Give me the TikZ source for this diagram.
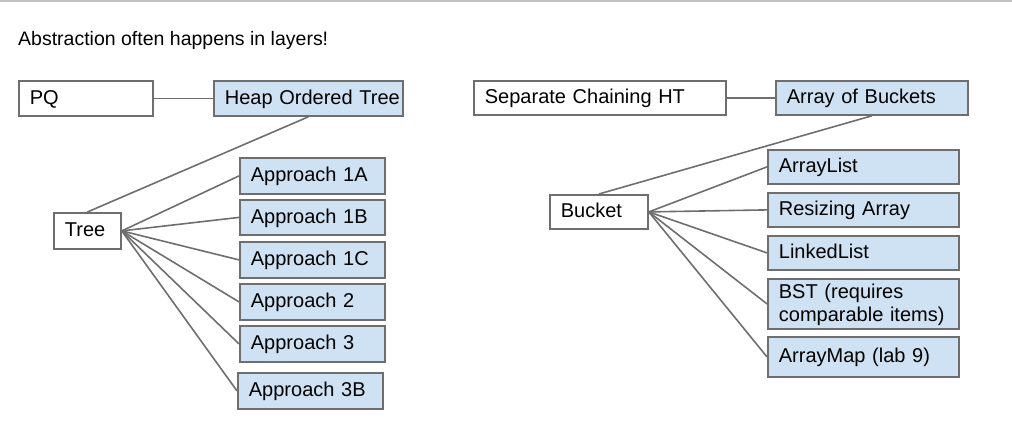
\documentclass[tikz,border=0pt]{standalone}
\usepackage{fontspec}
\setmainfont{Liberation Sans}
\definecolor{edgegray}{HTML}{6E6E6E}
\definecolor{boxblue}{HTML}{CFE2F3}
\definecolor{topgray}{HTML}{BFC3C2}
\tikzset{
  bx/.style={draw=edgegray, line width=1.8pt, fill=white, anchor=north west,
    inner xsep=11pt, inner ysep=0pt, align=left, text height=14pt, text depth=2pt,
    font=\fontsize{20}{23}\selectfont},
  bbx/.style={bx, fill=boxblue},
  conn/.style={draw=edgegray, line width=1.6pt}
}
\begin{document}
\begin{tikzpicture}[x=1pt,y=-1pt]
\useasboundingbox (0,0) rectangle (1012,442);
\fill[topgray] (0,0) rectangle (1012,1.5);
\node[anchor=base west, inner sep=0pt, font=\fontsize{19.5}{23}\selectfont] (title) at (18,45) {Abstraction often happens in layers!};
% left side
\node[bx,  text width=112pt, minimum height=35pt] (pq)  at (18,80)  {PQ};
\node[bbx, text width=167pt, minimum height=35pt] (hot) at (213,80) {\mbox{Heap Ordered Tree}};
\node[bx,  text width=45pt,  minimum height=36pt] (tree) at (53,212) {Tree};
\node[bbx, text width=123pt, minimum height=36pt] (a1a) at (239,157) {Approach 1A};
\node[bbx, text width=123pt, minimum height=35pt] (a1b) at (239,199) {Approach 1B};
\node[bbx, text width=123pt, minimum height=36pt] (a1c) at (239,241) {Approach 1C};
\node[bbx, text width=123pt, minimum height=36pt] (a2)  at (239,283) {Approach 2};
\node[bbx, text width=123pt, minimum height=36pt] (a3)  at (239,325) {Approach 3};
\node[bbx, text width=123pt, minimum height=36pt] (a3b) at (237,372) {Approach 3B};
% right side
\node[bx,  text width=230pt, minimum height=34pt] (scht) at (473,80) {Separate Chaining HT};
\node[bbx, text width=170pt, minimum height=34pt] (aob)  at (775,80) {\mbox{Array of Buckets}};
\node[bx,  text width=76pt,  minimum height=34pt] (bucket) at (549,194) {Bucket};
\node[bbx, text width=169pt, minimum height=34pt] (al)  at (767,149) {ArrayList};
\node[bbx, text width=169pt, minimum height=34pt] (ra)  at (767,192) {Resizing Array};
\node[bbx, text width=169pt, minimum height=34pt] (ll)  at (767,235) {LinkedList};
\node[bbx, text width=169pt, minimum height=50pt, text depth=25pt] (bst) at (767,278) {BST (requires\\\mbox{comparable items)}};
\node[bbx, text width=169pt, minimum height=40pt] (am)  at (767,336) {ArrayMap (lab 9)};
% connectors
\draw[conn] (pq.east) -- (hot.west);
\draw[conn] (hot.south) -- (tree.north);
\foreach \t in {a1a,a1b,a1c,a2,a3,a3b} \draw[conn] (tree.east) -- (\t.west);
\draw[conn] (scht.east) -- (aob.west);
\draw[conn] (aob.south) -- (bucket.north);
\foreach \t in {al,ra,ll,bst,am} \draw[conn] (bucket.east) -- (\t.west);
\end{tikzpicture}
\end{document}
